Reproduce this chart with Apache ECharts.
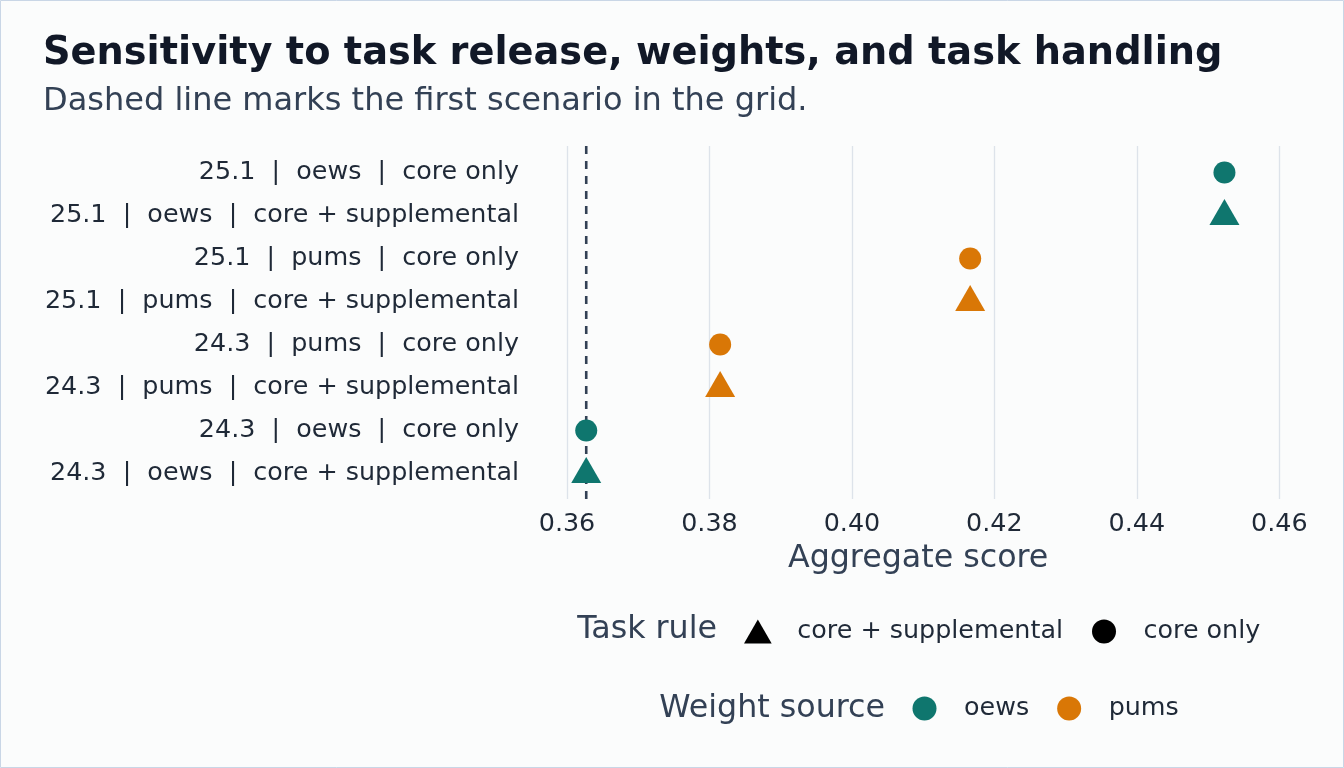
<!DOCTYPE html>
<html>
<head>
<meta charset="utf-8">
<script src="https://cdn.jsdelivr.net/npm/echarts@6/dist/echarts.min.js"></script>
<style>
html,body{margin:0;padding:0;background:#fbfcfc;}
#chart{width:1344px;height:768px;}
</style>
</head>
<body>
<div id="chart"></div>
<script>
// ---- data (top row first) ----
const categories = [
  '25.1  |  oews  |  core only',
  '25.1  |  oews  |  core + supplemental',
  '25.1  |  pums  |  core only',
  '25.1  |  pums  |  core + supplemental',
  '24.3  |  pums  |  core only',
  '24.3  |  pums  |  core + supplemental',
  '24.3  |  oews  |  core only',
  '24.3  |  oews  |  core + supplemental'
];
const scores = [0.4523, 0.4523, 0.4166, 0.4166, 0.3815, 0.3815, 0.3627, 0.3627];
const weightSource = ['oews', 'oews', 'pums', 'pums', 'pums', 'pums', 'oews', 'oews'];
const taskRule = ['core only', 'core + supplemental', 'core only', 'core + supplemental',
                  'core only', 'core + supplemental', 'core only', 'core + supplemental'];
const firstScenarioIndex = 7; // first scenario in the grid (24.3 | oews)
const xMin = 0.36, xMax = 0.46, xStep = 0.02;
const weightLevels = ['oews', 'pums'];
const ruleLevels = ['core + supplemental', 'core only'];

// ---- styles ----
const FONT = 'DejaVu Sans';
const weightColors = { oews: '#0f766e', pums: '#d97706' };
const TRI = 'path://M0,26L15,0L30,26Z';
const ruleSymbols = { 'core only': 'circle', 'core + supplemental': TRI };
const ruleSizes = { 'core only': [22, 22], 'core + supplemental': [30, 26] };
const ruleOffsets = { 'core only': [0, 0], 'core + supplemental': [0, -3.5] };

const gridLeft = 567, gridRight = 1344 - 1279.3;

const series = [];
weightLevels.forEach(w => {
  ruleLevels.forEach(r => {
    const data = [];
    scores.forEach((v, i) => {
      if (weightSource[i] === w && taskRule[i] === r) data.push([v, categories[i]]);
    });
    series.push({
      type: 'scatter', name: 'pts ' + w + ' ' + r,
      xAxisIndex: 1, yAxisIndex: 1,
      symbol: ruleSymbols[r], symbolSize: ruleSizes[r], symbolOffset: ruleOffsets[r],
      symbolKeepAspect: false,
      itemStyle: { color: weightColors[w], opacity: 1 },
      clip: false, silent: true, z: 5,
      data: data
    });
  });
});
// dashed reference line at first scenario
const refValue = scores[firstScenarioIndex];
series.push({
  type: 'line', name: 'ref', xAxisIndex: 0, yAxisIndex: 0,
  data: [[refValue, 0], [refValue, 1]], symbol: 'none', silent: true,
  lineStyle: { type: [8, 7], color: '#334155', width: 2.6 }, z: 3
});
// legend-only series
ruleLevels.forEach(r => series.push({ type: 'scatter', name: r, data: [], xAxisIndex: 1, yAxisIndex: 1, symbol: ruleSymbols[r], itemStyle: { color: '#000', opacity: 1 } }));
weightLevels.forEach(w => series.push({ type: 'scatter', name: w, data: [], xAxisIndex: 1, yAxisIndex: 1, symbol: 'circle', itemStyle: { color: weightColors[w], opacity: 1 } }));

const chart = echarts.init(document.getElementById('chart'), null, { renderer: 'canvas' });
chart.setOption({
  animation: false,
  backgroundColor: '#fbfcfc',
  textStyle: { fontFamily: FONT },
  title: [
    { text: 'Sensitivity to task release, weights, and task handling', left: 38, top: 30,
      textStyle: { fontFamily: FONT, fontSize: 38.3, fontWeight: 'bold', color: '#111827' } },
    { text: 'Dashed line marks the first scenario in the grid.', left: 38, top: 81,
      textStyle: { fontFamily: FONT, fontSize: 32, fontWeight: 'normal', color: '#334155' } }
  ],
  grid: [
    { left: gridLeft, right: gridRight, top: 146, bottom: 768 - 499, containLabel: false },
    { left: gridLeft, right: gridRight, top: 151, height: 344, containLabel: false }
  ],
  xAxis: [
    { type: 'value', gridIndex: 0, min: xMin, max: xMax, interval: xStep,
      name: 'Aggregate score', nameLocation: 'middle', nameGap: 44,
      nameTextStyle: { fontFamily: FONT, fontSize: 31.7, color: '#334155', padding: [0, 10, 0, 0] },
      axisLine: { show: false }, axisTick: { show: false },
      axisLabel: { fontFamily: FONT, fontSize: 25.4, color: '#1f2937', margin: 13,
        formatter: v => v.toFixed(2) },
      splitLine: { show: true, lineStyle: { color: '#dde3ea', width: 1.3 } } },
    { type: 'value', gridIndex: 1, min: xMin, max: xMax, interval: xStep, show: false,
      splitLine: { show: false } }
  ],
  yAxis: [
    { type: 'value', gridIndex: 0, show: false, min: 0, max: 1, splitLine: { show: false } },
    { type: 'category', gridIndex: 1, data: categories, inverse: true,
      axisLine: { show: false }, axisTick: { show: false }, splitLine: { show: false },
      axisLabel: { fontFamily: FONT, fontSize: 25.4, color: '#1f2937', margin: 48, align: 'right' } }
  ],
  legend: [
    { data: ruleLevels.map(r => ({ name: r, icon: ruleSymbols[r] })),
      left: 739, top: 614, orient: 'horizontal', itemWidth: 69, itemHeight: 24, itemGap: 29,
      symbolKeepAspect: true, selectedMode: false, itemStyle: { opacity: 1 },
      textStyle: { fontFamily: FONT, fontSize: 25.4, color: '#1f2937' } },
    { data: weightLevels.map(w => ({ name: w, icon: 'circle' })),
      left: 907.5, top: 691, orient: 'horizontal', itemWidth: 69, itemHeight: 24, itemGap: 28,
      symbolKeepAspect: true, selectedMode: false, itemStyle: { opacity: 1 },
      textStyle: { fontFamily: FONT, fontSize: 25.4, color: '#1f2937' } }
  ],
  graphic: [
    { type: 'rect', shape: { x: 0.5, y: 0.5, width: 1343, height: 767 }, silent: true,
      style: { fill: 'none', stroke: '#c9d6e6', lineWidth: 1 }, z: 100 },
    { type: 'text', right: 1344 - 717, top: 614, silent: true,
      style: { text: 'Task rule', font: '31.7px "DejaVu Sans"', fill: '#334155', textAlign: 'right' } },
    { type: 'text', right: 1344 - 885, top: 693, silent: true,
      style: { text: 'Weight source', font: '31.7px "DejaVu Sans"', fill: '#334155', textAlign: 'right' } }
  ],
  series: series
});
</script>
</body>
</html>
